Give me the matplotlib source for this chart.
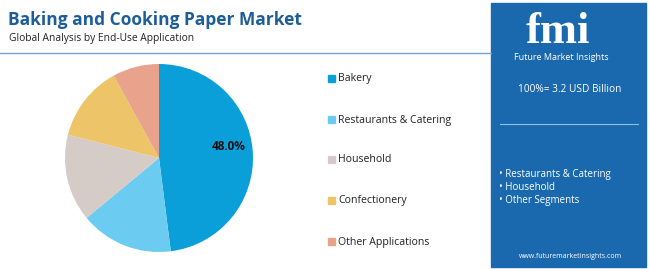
import matplotlib
matplotlib.use('Agg')
import matplotlib.pyplot as plt
from matplotlib.patches import Rectangle

plt.rcParams['font.family'] = ['Open Sans', 'DejaVu Sans']

# Data
segments = ['Bakery', 'Restaurants & Catering', 'Household', 'Confectionery', 'Other Applications']
shares = [48.0, 16.0, 15.0, 13.0, 8.0]
colors = ['#0a9fd9', '#6ccbf0', '#d5ccc7', '#edc468', '#e9a28c']
panel_bullets = ['Restaurants & Catering', 'Household', 'Other Segments']
total_text = '100%= 3.2 USD Billion'

W, H = 650, 269
fig = plt.figure(figsize=(W / 100, H / 100), dpi=100)

def fx(x):
    return x / W

def fy(y):
    return 1 - y / H

# Title block
fig.text(fx(8), fy(20), 'Baking and Cooking Paper Market', fontsize=12.5, fontweight='bold',
         color='#1d5e98', va='center', ha='left')
fig.text(fx(9), fy(39), 'Global Analysis by End-Use Application', fontsize=7.4,
         color='#222222', va='center', ha='left')
fig.add_artist(plt.Line2D([0, fx(491)], [fy(53), fy(53)], color='#6fa3d0', lw=1.0))

# Pie
ax = fig.add_axes([fx(65), fy(252), fx(188), 188 / H])
wedges, texts, autotexts = ax.pie(
    shares, colors=colors, startangle=90, counterclock=False,
    autopct=lambda p: f'{p:.1f}%' if p > 40 else '',
    wedgeprops=dict(linewidth=0),
    textprops=dict(fontsize=8.5, fontweight='bold', color='#111111'))
autotexts[0].set_position((0.74, 0.12))
ax.set_xlim(-1, 1)
ax.set_ylim(-1, 1)
ax.set_aspect('equal')

# Legend
legend_y = [79, 120, 160, 201, 242]
for name, col, y in zip(segments, colors, legend_y):
    fig.add_artist(Rectangle((fx(328), fy(y + 3)), fx(7), 7 / H, color=col, transform=fig.transFigure))
    fig.text(fx(338), fy(y), name, fontsize=7.6, color='#222222', va='center', ha='left')

# Right panel
fig.add_artist(Rectangle((fx(491), fy(267)), fx(155), 264 / H, color='#1a68ad',
                         transform=fig.transFigure, zorder=0))
fig.text(fx(558), fy(43), 'fmi', fontsize=32, fontweight='bold', color='white',
         family='Liberation Serif', va='baseline', ha='center')
fig.text(fx(561), fy(58), 'Future Market Insights', fontsize=6.5, color='white',
         va='center', ha='center')
fig.text(fx(570), fy(90), total_text, fontsize=7.3, color='white', va='center', ha='center')
fig.add_artist(plt.Line2D([fx(500), fx(638)], [fy(124), fy(124)], color='#8fbfe6', lw=0.8))
for i, b in enumerate(panel_bullets):
    fig.text(fx(499), fy(174 + i * 13.5), '\u2022 ' + b, fontsize=7, color='white',
             va='center', ha='left')
fig.text(fx(570), fy(257), 'www.futuremarketinsights.com', fontsize=5, color='white',
         va='center', ha='center')

fig.savefig('out.png', dpi=100)
